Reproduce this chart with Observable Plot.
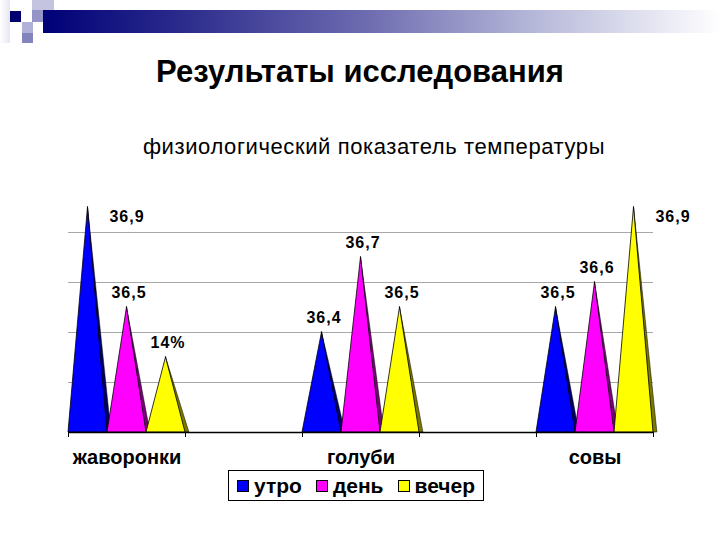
<!DOCTYPE html>
<html>
<head>
<meta charset="utf-8">
<script src="https://cdn.jsdelivr.net/npm/d3@7"></script>
<script src="https://cdn.jsdelivr.net/npm/@observablehq/plot@0.6"></script>
<style>
  html, body { margin: 0; padding: 0; background: #fff; }
  #page { position: relative; width: 720px; height: 540px; overflow: hidden; font-family: "Liberation Sans", Arial, sans-serif; }
  .sq { position: absolute; }
  #bar { position: absolute; left: 43px; top: 10px; width: 677px; height: 23px;
         background: linear-gradient(to right, #000078 0%, #2a2a8c 20%, #6e6cb0 48%, #b4b6d8 72%, #ffffff 100%); }
  #title { position: absolute; left: 0; top: 55px; width: 720px; text-align: center; font-weight: bold; font-size: 31px; line-height: 34px; color: #000; }
  #subtitle { position: absolute; left: 14px; top: 134px; width: 720px; text-align: center; font-size: 22px; line-height: 26px; color: #000; letter-spacing: 0.6px; }
  #chart { position: absolute; left: 0; top: 180px; }
  #legend { position: absolute; left: 228px; top: 470px; width: 238px; height: 29px; border: 1px solid #000;
            display: flex; align-items: center; justify-content: space-between; font-weight: bold; font-size: 21px; padding: 0 8px; box-sizing: content-box; }
  #legend .item { display: flex; align-items: center; gap: 5px; }
  #legend .sw { width: 10px; height: 10px; border: 1px solid #000; }
</style>
</head>
<body>
<div id="page">
  <div class="sq" style="left:0;top:0;width:10px;height:43px;background:linear-gradient(to right,#fff,#e6e6f2);"></div>
  <div class="sq" style="left:32px;top:0;width:22px;height:22px;background:#c4c4e0;"></div>
  <div class="sq" style="left:32px;top:10px;width:11px;height:12px;background:#9494c8;"></div>
  <div class="sq" style="left:10px;top:11px;width:11px;height:11px;background:#00006e;"></div>
  <div class="sq" style="left:22px;top:22px;width:11px;height:11px;background:#b0b0d8;"></div>
  <div class="sq" style="left:22px;top:33px;width:11px;height:10px;background:#8484bc;"></div>
  <div id="bar"></div>
  <div id="title">Результаты исследования</div>
  <div id="subtitle">физиологический показатель температуры</div>
  <div id="chart"></div>
  <div id="legend"></div>
</div>
<script>
// ---- data ----
const categories = ["жаворонки", "голуби", "совы"];
const seriesNames = ["утро", "день", "вечер"];
const morning = [36.9, 36.4, 36.5];
const day = [36.5, 36.7, 36.6];
const evening = [36.3, 36.5, 36.9];
const morningLabels = ["36,9", "36,4", "36,5"];
const dayLabels = ["36,5", "36,7", "36,6"];
const eveningLabels = ["14%", "36,5", "36,9"];
const seriesColors = ["#0000ff", "#ff00ff", "#ffff00"];
const shadeColors = ["#00006a", "#7a007a", "#7a7a00"];
const yTicks = [36.2, 36.4, 36.6, 36.8];
const yMin = 36.0, yMax = 36.9;

// ---- build table ----
const seriesValues = [morning, day, evening];
const seriesLabels = [morningLabels, dayLabels, eveningLabels];
const rows = [];
categories.forEach((cat, i) => {
  seriesNames.forEach((s, j) => {
    rows.push({cat, series: s, si: j, value: seriesValues[j][i], label: seriesLabels[j][i], slot: i * 6 + j, id: `${i}-${j}`});
  });
});
const tri = rows.flatMap(r => [
  {id: r.id, series: r.series, y: r.value, x1: r.slot + 0.5, x2: r.slot + 0.5},
  {id: r.id, series: r.series, y: yMin, x1: r.slot, x2: r.slot + 1}
]);
const shade = rows.flatMap(r => [
  {id: r.id, si: r.si, y: r.value, x1: r.slot + 0.5, x2: r.slot + 0.5},
  {id: r.id, si: r.si, y: yMin, x1: r.slot + 0.95, x2: r.slot + 1.1}
]);
const groupCenters = categories.map((c, i) => ({cat: c, x: i * 6 + 1.5}));
const edges = categories.flatMap((c, i) => [i * 6, i * 6 + 3]);

const chart = Plot.plot({
  width: 720,
  height: 300,
  marginLeft: 68,
  marginRight: 67,
  marginTop: 27,
  marginBottom: 48,
  style: {fontFamily: "'Liberation Sans', Arial, sans-serif", background: "transparent"},
  x: {domain: [0, 15], axis: null},
  y: {domain: [yMin, yMax], axis: null},
  color: {domain: seriesNames, range: seriesColors},
  marks: [
    Plot.gridY(yTicks, {stroke: "#a8a8a8", strokeOpacity: 1, strokeWidth: 1}),
    Plot.axisX(edges, {tickSize: 5, tickFormat: () => "", stroke: "#000", strokeWidth: 1}),
    Plot.areaX(shade, {y: "y", x1: "x1", x2: "x2", z: "id", fill: d => shadeColors[d.si], stroke: "#000", strokeWidth: 0.5}),
    Plot.areaX(tri, {y: "y", x1: "x1", x2: "x2", z: "id", fill: "series", stroke: "#000", strokeWidth: 0.8}),
    Plot.ruleY([yMin], {stroke: "#000", strokeWidth: 1.5}),
    Plot.text(rows.filter(r => r.value < 36.85), {x: r => r.slot + 0.5, y: "value", text: "label", dx: 2, dy: -15,
      fontSize: 16, fontWeight: "bold", fill: "#000"}),
    Plot.text(rows.filter(r => r.value >= 36.85), {x: r => r.slot + 0.5, y: "value", text: "label", dx: 39, dy: 9,
      fontSize: 16, fontWeight: "bold", fill: "#000"}),
    Plot.text(groupCenters, {x: "x", y: () => yMin, text: "cat", dy: 25, fontSize: 20, fontWeight: "bold", fill: "#000"})
  ]
});
chart.querySelectorAll("text").forEach(t => { if (/\d/.test(t.textContent)) t.setAttribute("letter-spacing", "1"); });
document.getElementById("chart").appendChild(chart);

// ---- legend ----
const legend = document.getElementById("legend");
seriesNames.forEach((s, j) => {
  const it = document.createElement("div");
  it.className = "item";
  const sw = document.createElement("div");
  sw.className = "sw";
  sw.style.background = seriesColors[j];
  const lb = document.createElement("span");
  lb.textContent = s;
  it.appendChild(sw); it.appendChild(lb);
  legend.appendChild(it);
});
</script>
</body>
</html>
